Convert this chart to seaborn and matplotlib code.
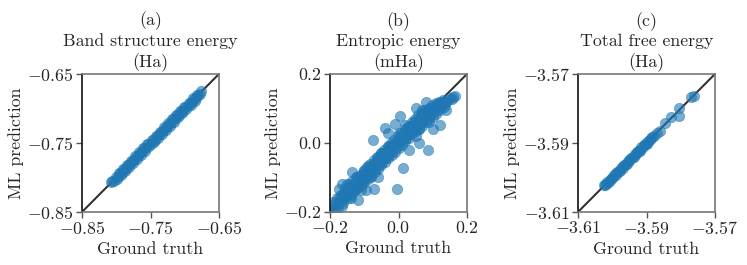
import matplotlib
matplotlib.use("Agg")
import matplotlib.pyplot as plt
import seaborn as sns
import pandas as pd

sns.set_style("ticks")
plt.rcParams["font.family"] = ["cmr10", "DejaVu Serif"]
plt.rcParams["mathtext.fontset"] = "cm"
plt.rcParams["axes.formatter.use_mathtext"] = True

# ---------------- data ----------------
titles = ["(a)\nBand structure energy\n(Ha)",
          "(b)\nEntropic energy\n(mHa)",
          "(c)\nTotal free energy\n(Ha)"]
limits = [(-0.85, -0.65), (-0.2, 0.2), (-3.61, -3.57)]
ticks = [[-0.85, -0.75, -0.65], [-0.2, 0.0, 0.2], [-3.61, -3.59, -3.57]]
tick_labels = [["$-0.85$", "$-0.75$", "$-0.65$"],
               ["$-0.2$", "$0.0$", "$0.2$"],
               ["$-3.61$", "$-3.59$", "$-3.57$"]]

a_true = [-0.808, -0.806, -0.804, -0.801, -0.798, -0.795, -0.792, -0.789, -0.786, -0.783,
          -0.780, -0.777, -0.774, -0.771, -0.768, -0.765, -0.762, -0.759, -0.756, -0.753,
          -0.750, -0.747, -0.744, -0.741, -0.738, -0.735, -0.732, -0.729, -0.726, -0.723,
          -0.720, -0.717, -0.714, -0.711, -0.708, -0.705, -0.702, -0.699, -0.696, -0.693,
          -0.690, -0.687, -0.684, -0.681, -0.678, -0.676,
          -0.7995, -0.7965, -0.7935, -0.7905, -0.7875, -0.7845, -0.7815, -0.7785, -0.7755, -0.7725,
          -0.7695, -0.7665, -0.7635, -0.7605, -0.7575, -0.7545, -0.7515, -0.7485, -0.7455, -0.7425,
          -0.7395, -0.7365, -0.7335, -0.7305, -0.7275, -0.7245, -0.7215, -0.7185, -0.7155, -0.7125,
          -0.7095, -0.7065, -0.7035, -0.7005, -0.6975, -0.6945, -0.6915, -0.6885, -0.6855, -0.6825]
a_pred = [-0.807, -0.805, -0.805, -0.800, -0.799, -0.794, -0.793, -0.788, -0.787, -0.782,
          -0.781, -0.776, -0.775, -0.770, -0.769, -0.764, -0.763, -0.758, -0.757, -0.752,
          -0.751, -0.746, -0.745, -0.740, -0.739, -0.734, -0.733, -0.728, -0.727, -0.722,
          -0.721, -0.716, -0.715, -0.710, -0.709, -0.704, -0.703, -0.698, -0.697, -0.692,
          -0.691, -0.686, -0.685, -0.680, -0.679, -0.675,
          -0.8020, -0.7930, -0.7965, -0.7875, -0.7910, -0.7815, -0.7850, -0.7755, -0.7790, -0.7695,
          -0.7730, -0.7635, -0.7670, -0.7575, -0.7610, -0.7515, -0.7550, -0.7455, -0.7490, -0.7395,
          -0.7430, -0.7335, -0.7370, -0.7275, -0.7310, -0.7215, -0.7250, -0.7155, -0.7190, -0.7095,
          -0.7130, -0.7035, -0.7070, -0.6975, -0.7010, -0.6915, -0.6950, -0.6855, -0.6890, -0.6800]

b_true = [-0.195, -0.190, -0.185, -0.180, -0.178, -0.175, -0.170, -0.168, -0.165, -0.160,
          -0.158, -0.155, -0.150, -0.148, -0.145, -0.140, -0.138, -0.135, -0.130, -0.128,
          -0.125, -0.120, -0.117, -0.115, -0.112, -0.110, -0.105, -0.102, -0.100, -0.095,
          -0.092, -0.090, -0.085, -0.082, -0.080, -0.075, -0.075, -0.073, -0.072, -0.070,
          -0.065, -0.062, -0.060, -0.055, -0.052, -0.050, -0.045, -0.042, -0.040, -0.039,
          -0.035, -0.032, -0.030, -0.025, -0.022, -0.020, -0.015, -0.012, -0.010, -0.005,
          -0.005, -0.002, 0.000, 0.004, 0.005, 0.008, 0.010, 0.014, 0.015, 0.018,
          0.020, 0.025, 0.028, 0.030, 0.035, 0.038, 0.040, 0.045, 0.048, 0.050,
          0.055, 0.058, 0.060, 0.065, 0.068, 0.070, 0.075, 0.078, 0.080, 0.085,
          0.087, 0.088, 0.090, 0.095, 0.098, 0.100, 0.105, 0.108, 0.110, 0.115,
          0.118, 0.121, 0.122, 0.125, 0.130, 0.132, 0.140, 0.150, 0.165, -0.120,
          -0.090, -0.060, -0.030, 0.000, 0.030, 0.060, 0.090, -0.150, -0.100, -0.050,
          0.020, 0.050, 0.070, -0.140, -0.110, -0.080,
          -0.188, -0.182, -0.176, -0.172, -0.166, -0.162, -0.156, -0.152, -0.146, -0.142,
          -0.136, -0.132, -0.127, -0.123, -0.118, -0.114, -0.108, -0.104, -0.098, -0.094,
          -0.088, -0.084, -0.078, -0.074, -0.068, -0.064, -0.058, -0.054, -0.048, -0.044,
          -0.038, -0.034, -0.028, -0.024, -0.018, -0.014, -0.008, -0.004, 0.002, 0.006,
          0.012, 0.016, 0.022, 0.026, 0.032, 0.036, 0.042, 0.046, 0.052, 0.056,
          0.062, 0.066, 0.072, 0.076, 0.082, 0.086, 0.092, 0.096, 0.102, 0.106,
          0.112, 0.116, 0.124, 0.128, 0.135, 0.145, 0.155, 0.160,
          -0.165, -0.135, -0.095, -0.060, -0.030, 0.030, 0.060, 0.100, 0.140, 0.050,
          -0.010, 0.080]
b_pred = [-0.190, -0.172, -0.195, -0.160, -0.178, -0.132, -0.165, -0.150, -0.182, -0.145,
          -0.160, -0.130, -0.155, -0.140, -0.120, -0.150, -0.130, -0.110, -0.140, -0.118,
          -0.100, -0.130, -0.166, -0.110, -0.092, -0.125, -0.100, -0.080, -0.115, -0.090,
          -0.070, -0.105, -0.080, -0.060, -0.095, -0.070, 0.009, -0.132, -0.050, -0.085,
          -0.060, -0.040, -0.075, -0.050, -0.030, -0.065, -0.040, -0.020, -0.055, 0.043,
          -0.030, -0.010, -0.045, -0.020, 0.000, -0.035, -0.010, 0.010, -0.025, -0.132,
          0.000, 0.020, -0.015, 0.077, 0.010, 0.030, -0.005, -0.073, 0.020, 0.040,
          0.005, 0.030, 0.050, 0.015, 0.040, 0.060, 0.025, 0.050, 0.070, 0.035,
          0.060, 0.080, 0.040, 0.070, 0.090, 0.050, 0.075, 0.095, 0.060, 0.085,
          -0.020, 0.100, 0.070, 0.090, 0.110, 0.075, 0.100, 0.115, 0.085, 0.105,
          0.120, 0.053, 0.095, 0.115, 0.125, 0.105, 0.120, 0.130, 0.136, -0.100,
          -0.068, -0.042, -0.012, 0.030, 0.045, 0.040, 0.060, -0.120, -0.078, -0.028,
          0.052, 0.020, 0.095, -0.160, -0.135, -0.100,
          -0.180, -0.170, -0.188, -0.155, -0.168, -0.175, -0.148, -0.138, -0.158, -0.128,
          -0.142, -0.122, -0.135, -0.112, -0.120, -0.098, -0.115, -0.090, -0.105, -0.082,
          -0.095, -0.072, -0.085, -0.060, -0.075, -0.052, -0.065, -0.042, -0.055, -0.030,
          -0.045, -0.020, -0.035, -0.010, -0.025, 0.000, -0.015, 0.010, -0.005, 0.020,
          0.005, 0.030, 0.015, 0.040, 0.025, 0.050, 0.035, 0.060, 0.045, 0.070,
          0.055, 0.080, 0.065, 0.088, 0.072, 0.095, 0.080, 0.100, 0.088, 0.108,
          0.095, 0.112, 0.105, 0.118, 0.112, 0.125, 0.128, 0.133,
          -0.120, -0.085, -0.135, -0.100, 0.030, -0.020, 0.000, 0.040, 0.095, 0.100,
          0.055, 0.120]

c_true = [-3.6025, -3.6020, -3.6015, -3.6010, -3.6005, -3.6000, -3.5995, -3.5990, -3.5985, -3.5980,
          -3.5975, -3.5970, -3.5965, -3.5960, -3.5955, -3.5950, -3.5945, -3.5940, -3.5935, -3.5930,
          -3.5925, -3.5920, -3.5915, -3.5910, -3.5905, -3.5900, -3.5895, -3.5890, -3.5885, -3.5879,
          -3.5870, -3.5860, -3.5845, -3.5830, -3.5806, -3.5806, -3.5762, -3.5770,
          -3.6018, -3.6008, -3.5998, -3.5988, -3.5978, -3.5968, -3.5958, -3.5948, -3.5938, -3.5928,
          -3.5918, -3.5908, -3.5898, -3.5888]
c_pred = [-3.6022, -3.6022, -3.6013, -3.6012, -3.6003, -3.6002, -3.5993, -3.5992, -3.5983, -3.5982,
          -3.5973, -3.5972, -3.5963, -3.5962, -3.5953, -3.5952, -3.5943, -3.5942, -3.5933, -3.5932,
          -3.5923, -3.5922, -3.5913, -3.5912, -3.5903, -3.5902, -3.5893, -3.5892, -3.5883, -3.5881,
          -3.5872, -3.5866, -3.5842, -3.5824, -3.5798, -3.5823, -3.5764, -3.5768,
          -3.6020, -3.6006, -3.6000, -3.5986, -3.5980, -3.5966, -3.5960, -3.5946, -3.5940, -3.5926,
          -3.5920, -3.5906, -3.5900, -3.5886]

trues = [a_true, b_true, c_true]
preds = [a_pred, b_pred, c_pred]

# ---------------- figure ----------------
fig = plt.figure(figsize=(7.47, 2.65), dpi=100)
lefts = [0.1098, 0.4418, 0.7738]
blue = "#1f77b4"
fs = 12.8

for i in range(3):
    ax = fig.add_axes([lefts[i], 0.2, 0.1834, 0.521])
    lo, hi = limits[i]
    ax.plot([lo, hi], [lo, hi], color="#333333", lw=1.5, zorder=1)
    df = pd.DataFrame({"truth": trues[i], "pred": preds[i]})
    sns.scatterplot(data=df, x="truth", y="pred", ax=ax, color=blue,
                    alpha=0.6, s=55, edgecolor=blue, linewidth=0.5, zorder=2)
    ax.set_xlim(lo, hi)
    ax.set_ylim(lo, hi)
    ax.set_xticks(ticks[i])
    ax.set_yticks(ticks[i])
    ax.set_xticklabels(tick_labels[i])
    ax.set_yticklabels(tick_labels[i])
    ax.tick_params(axis="both", labelsize=fs, length=4, width=1,
                   color="#555555", direction="out", pad=2)
    ax.set_xlabel("Ground truth", fontsize=fs, labelpad=3)
    ax.set_ylabel("ML prediction", fontsize=fs, labelpad=2)
    ax.set_title(titles[i], fontsize=fs, linespacing=1.27, pad=5)
    for side in ["top", "right", "bottom"]:
        ax.spines[side].set_color("#777777")
        ax.spines[side].set_linewidth(1.2)
    ax.spines["left"].set_color("#111111")
    ax.spines["left"].set_linewidth(1.2)

fig.savefig("out.png", dpi=100)
